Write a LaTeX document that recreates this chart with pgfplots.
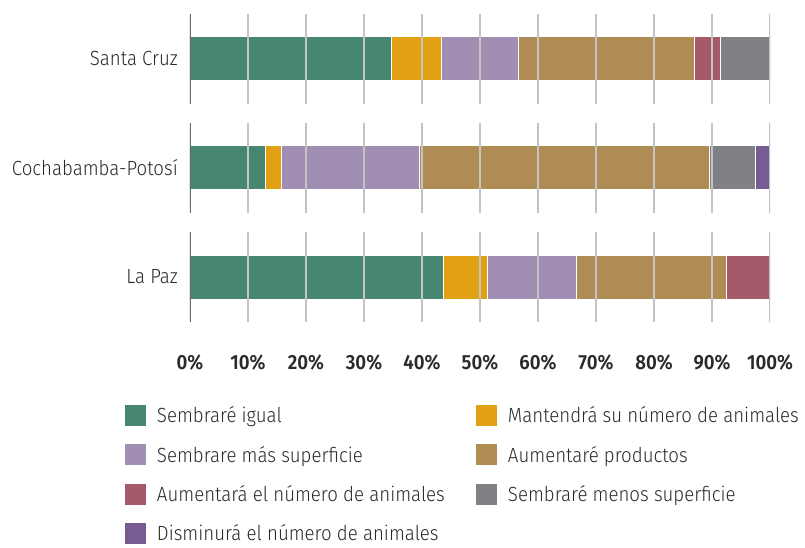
\documentclass[border=0pt]{standalone}
\usepackage{pgfplots}
\pgfplotsset{compat=1.18}
\usepackage{fontspec}
\setmainfont[FakeStretch=0.91, BoldFont={Fira Sans SemiBold}]{Fira Sans Light}
\definecolor{cGreen}{HTML}{47866F}
\definecolor{cOrange}{HTML}{E2A014}
\definecolor{cLilac}{HTML}{A08EB3}
\definecolor{cBrown}{HTML}{B08C55}
\definecolor{cRed}{HTML}{A45A6A}
\definecolor{cGray}{HTML}{808184}
\definecolor{cPurple}{HTML}{765C92}
\definecolor{txt}{HTML}{2A2A2A}
\definecolor{gridc}{HTML}{C4C4C6}
\definecolor{axc}{HTML}{6A6A6C}
\begin{document}
\begin{tikzpicture}[x=1pt,y=1pt]
\useasboundingbox (-190,-223) rectangle (615,324);
\begin{axis}[
  at={(0,0)}, anchor=south west,
  scale only axis, width=580pt, height=310pt,
  xbar stacked, bar width=44pt,
  xmin=0, xmax=100, ymin=-0.43, ymax=2.41,
  axis line style={draw=none},
  major tick length=0pt,
  tick style={draw=none},
  ytick={0,1,2},
  yticklabels={La Paz,Cochabamba-Potosí,Santa Cruz},
  xtick={0,10,...,100},
  xticklabels={0\%,10\%,20\%,30\%,40\%,50\%,60\%,70\%,80\%,90\%,100\%},
  yticklabel style={font=\fontsize{20.5}{24}\selectfont, text=txt, inner sep=0pt, anchor=east, xshift=-12pt},
  xticklabel style={font=\fontsize{20.5}{24}\selectfont\bfseries, text=txt, inner sep=0pt, anchor=north, yshift=-31pt},
  legend columns=2,
  legend cell align=left,
  legend style={draw=none, fill=none, inner sep=0pt, outer sep=0pt,
    at={(-65pt,-81pt)}, anchor=north west,
    font=\fontsize{20.5}{24}\selectfont, text=txt,
    row sep=18.3pt,
    /tikz/every odd column/.append style={column sep=11pt},
    /tikz/every even column/.append style={column sep=29pt},
    nodes={inner sep=0pt}},
  legend image code/.code={\path[#1,draw=none] (0pt,-10.5pt) rectangle (21pt,10.5pt);},
  every axis plot/.append style={draw=white, line width=1pt},
]
% grid segments per category
\foreach \c in {0,1,2}{
  \foreach \g in {10,20,...,100}{
    \edef\tmp{\noexpand\draw[gridc, line width=1.3pt] (axis cs:\g,\c-0.41) -- (axis cs:\g,\c+0.41);}\tmp
  }
  \edef\tmp{\noexpand\draw[axc, line width=1.6pt] (axis cs:0,\c-0.41) -- (axis cs:0,\c+0.41);}\tmp
}
\addplot[fill=cGreen] coordinates {(43.7,0) (13.0,1) (34.7,2)};
\addlegendentry{\makebox[290pt][l]{Sembraré igual}}
\addplot[fill=cOrange] coordinates {(7.6,0) (2.7,1) (8.7,2)};
\addlegendentry{Mantendrá su número de animales}
\addplot[fill=cLilac] coordinates {(15.4,0) (23.8,1) (13.2,2)};
\addlegendentry{\makebox[290pt][l]{Sembrare más superficie}}
\addplot[fill=cBrown] coordinates {(25.8,0) (50.1,1) (30.3,2)};
\addlegendentry{Aumentaré productos}
\addplot[fill=cRed] coordinates {(7.5,0) (0,1) (4.5,2)};
\addlegendentry{\makebox[290pt][l]{Aumentará el número de animales}}
\addplot[fill=cGray] coordinates {(0,0) (7.9,1) (8.6,2)};
\addlegendentry{Sembraré menos superficie}
\addplot[fill=cPurple] coordinates {(0,0) (2.5,1) (0,2)};
\addlegendentry{Disminurá el número de animales}
\end{axis}
\end{tikzpicture}
\end{document}
